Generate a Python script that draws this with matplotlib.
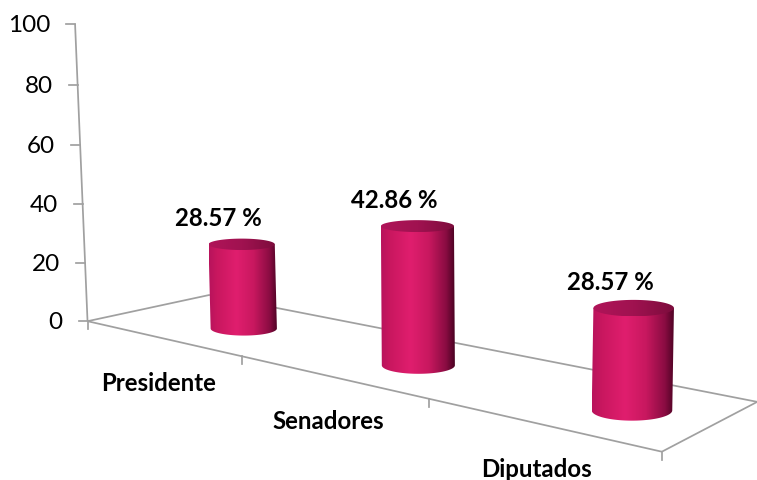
import numpy as np
import matplotlib
matplotlib.use('Agg')
import matplotlib.pyplot as plt
from matplotlib.colors import LinearSegmentedColormap
from matplotlib.patches import Polygon

categories = ['Presidente', 'Senadores', 'Diputados']
values = [28.57, 42.86, 28.57]
y_ticks = [0, 20, 40, 60, 80, 100]

GRID = '#a0a0a0'
plt.rcParams['font.family'] = ['Lato', 'DejaVu Sans']

# box of the 3D chart: (category, depth, value) -> (px, py)
calib = [((0, 0, 0), (86, 320)), ((1, 0, 0), (243, 357)), ((2, 0, 0), (431, 400)), ((3, 0, 0), (660, 451)),
         ((0, 1, 0), (210, 294)), ((3, 1, 0), (757, 403)),
         ((0, 0, 100), (75, 25)), ((3, 0, 100), (670, 45))]

rows = []
rhs = []
for (x, z, v), (px, py) in calib:
    rows.append([x, z, v, 1, 0, 0, 0, 0, -px * x, -px * z, -px * v])
    rows.append([0, 0, 0, 0, x, z, v, 1, -py * x, -py * z, -py * v])
    rhs += [px, py]
p = np.linalg.lstsq(np.array(rows, float), np.array(rhs, float), rcond=None)[0]


def project(x, z, v):
    w = p[8] * x + p[9] * z + p[10] * v + 1
    return (p[0] * x + p[1] * z + p[2] * v + p[3]) / w, (p[4] * x + p[5] * z + p[6] * v + p[7]) / w


def box_line(ax, a, b):
    pa = project(*a)
    pb = project(*b)
    ax.plot([pa[0], pb[0]], [pa[1], pb[1]], color=GRID, lw=1.25, zorder=1, solid_capstyle='butt')


body_cmap = LinearSegmentedColormap.from_list('body', [(0, '#b8135c'), (0.12, '#c9175f'), (0.4, '#e01e6e'),
                                                       (0.65, '#c8185f'), (0.88, '#8a0c42'), (1, '#4a0222')])
top_cmap = LinearSegmentedColormap.from_list('top', [(0, '#b01459'), (0.5, '#a01250'), (1, '#7c0c3c')])


def gradient(ax, cmap, poly, zorder):
    xs = poly[:, 0]
    ys = poly[:, 1]
    im = ax.imshow(np.linspace(0, 1, 256).reshape(1, -1), cmap=cmap, aspect='auto', zorder=zorder,
                   extent=[xs.min(), xs.max(), ys.max(), ys.min()], interpolation='bilinear')
    patch = Polygon(poly, closed=True, transform=ax.transData, fc='none', ec='none')
    ax.add_patch(patch)
    im.set_clip_path(patch)


def cylinder(ax, cx, cz, value, zorder):
    bx, by = project(cx, cz, 0)
    tx, ty = project(cx, cz, value)
    # width follows the local value scale, ellipses open up lower in the picture
    scale = (by - ty) / value
    a = 11.25 * scale
    b_base = a * (0.05 + 0.0005 * by)
    b_top = a * (0.05 + 0.0005 * ty)
    t = np.linspace(0, np.pi, 91)
    lower = np.c_[bx - a * np.cos(t), by + b_base * np.sin(t)]
    body = np.vstack([lower, [[tx + a, ty], [tx - a, ty]]])
    gradient(ax, body_cmap, body, zorder)
    t = np.linspace(0, 2 * np.pi, 181)
    gradient(ax, top_cmap, np.c_[tx + a * np.cos(t), ty + b_top * np.sin(t)], zorder + 0.1)
    return tx, ty


fig = plt.figure(figsize=(7.57, 4.80), dpi=100)
ax = fig.add_axes([0, 0, 1, 1])

# floor
box_line(ax, (0, 0, 0), (3, 0, 0))
box_line(ax, (0, 0, 0), (0, 1, 0))
box_line(ax, (0, 1, 0), (3, 1, 0))
box_line(ax, (3, 0, 0), (3, 1, 0))

# value axis
box_line(ax, (0, 0, 0), (0, 0, y_ticks[-1]))
for t in y_ticks:
    px, py = project(0, 0, t)
    ax.plot([px - 9, px], [py, py], color=GRID, lw=1.25, zorder=1)
    ax.text(px - 25, py + 1.5, str(t), ha='right', va='center', fontsize=17.5, color='black')

# category ticks and labels
for i in range(len(categories) + 1):
    px, py = project(i, 0, 0)
    ax.plot([px, px], [py, py + 8], color=GRID, lw=1.25, zorder=1)
for i, name in enumerate(categories):
    px, py = project(i + 0.5, 0, 0)
    ax.text(px - 2, py + 53, name, ha='center', va='baseline', fontsize=17.3, fontweight='bold', color='black')

# bars
for i, val in enumerate(values):
    tx, ty = cylinder(ax, 0.65 + 1.015 * i, 0.47, val, 3 + i)
    ax.text(tx - 23, ty - 26, f'{val:.2f} %', ha='center', va='center', fontsize=17.3, fontweight='bold',
            color='black', zorder=10)

ax.set_xlim(0, 757)
ax.set_ylim(480, 0)
ax.axis('off')
fig.savefig('out.png', dpi=100, facecolor='white')
